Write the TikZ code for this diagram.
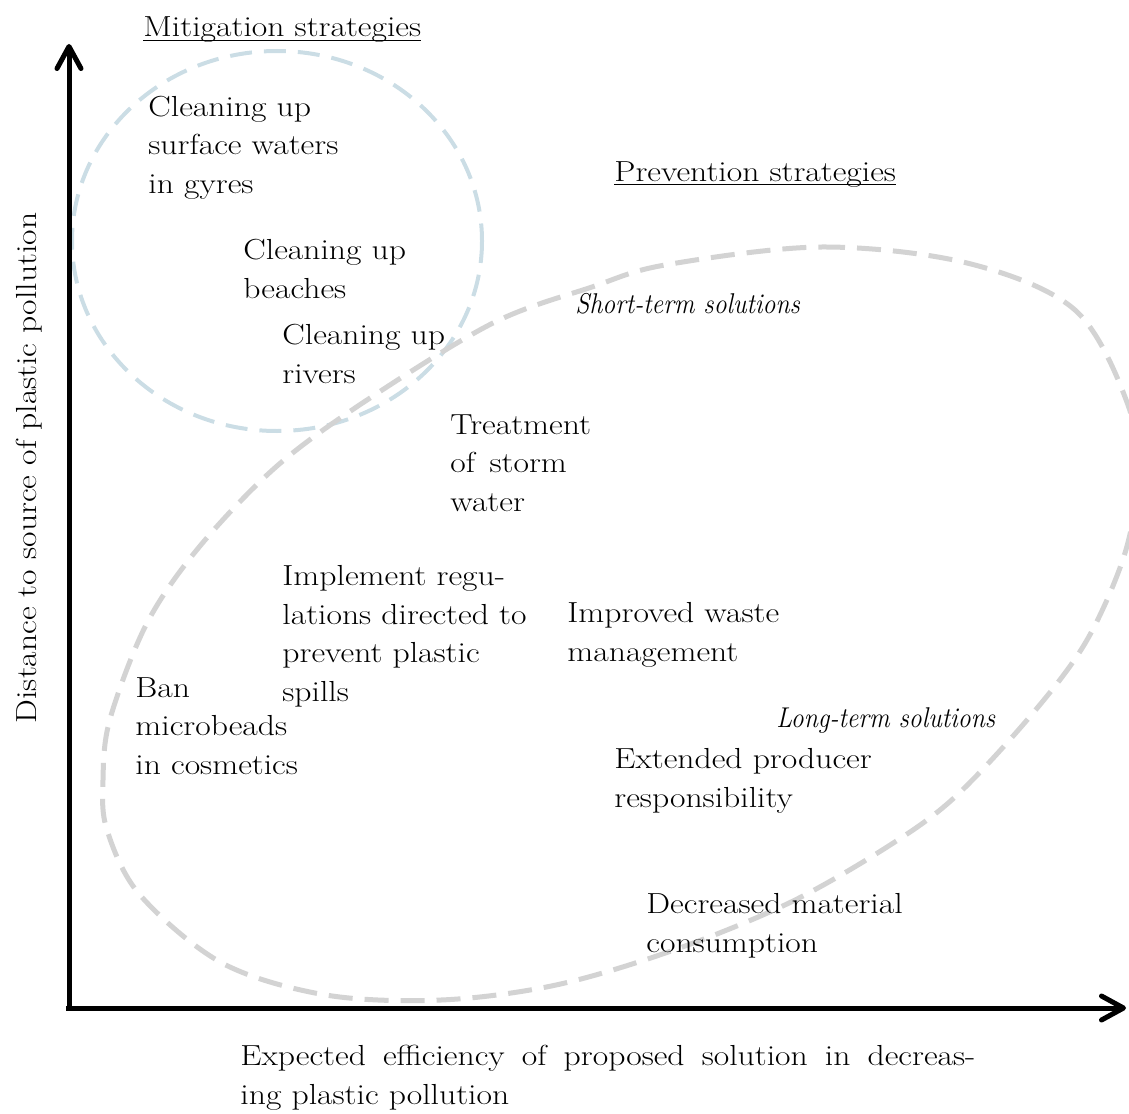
\documentclass[tikz,border=0pt]{standalone}
\usepackage{fontspec}
\setmainfont{Latin Modern Roman}[FakeStretch=1.16]
\newfontfamily\plainit{Latin Modern Roman}[FakeStretch=0.9]
\usetikzlibrary{arrows.meta}
\definecolor{bluedashc}{RGB}{203,221,229}
\definecolor{graydashc}{RGB}{211,211,211}
\newcommand\myul[1]{\setbox0\hbox{#1}\rlap{\rule[-2pt]{\wd0}{0.6pt}}\box0}
\tikzset{
  lbl/.style={font=\fontsize{14.5}{19.2}\selectfont, align=left, inner sep=0pt, anchor=base west},
  itlbl/.style={font=\fontsize{14.3}{16}\selectfont\plainit\itshape, inner sep=0pt, anchor=base west},
  axisline/.style={line width=2.5pt, -{Straight Barb[length=11pt,width=12pt,line cap=round,line join=round]}},
  bluedash/.style={draw=bluedashc, line width=2pt, dash pattern=on 11pt off 6pt},
  graydash/.style={draw=graydashc, line width=2.5pt, dash pattern=on 12pt off 6pt}
}
\begin{document}
\begin{tikzpicture}[x=0.5pt,y=-0.5pt]
\useasboundingbox (0,0) rectangle (1129,1113);
% dashed regions
\draw[bluedash] (277,241) ellipse [x radius=205, y radius=190];
\draw[graydash] plot[smooth cycle, tension=0.55] coordinates {
 (665,265) (821,247) (967,263) (1075,310) (1128,405) (1137,478) (1125,553)
 (1087,640) (1033,713) (955,797) (887,847) (789,903) (674,950) (556,985)
 (441,1000) (326,995) (222,963) (140,895) (107,830) (103,780) (110,719)
 (147,623) (200,546) (277,466) (367,400) (493,323) (592,287)};
% axes
\coordinate (ybot) at (69,1010);
\coordinate (ytop) at (69,44);
\coordinate (xbeg) at (66,1008);
\coordinate (xend) at (1126,1008);
\draw[axisline] (ybot) -- (ytop);
\draw[axisline] (xbeg) -- (xend);
% axis labels (anchor = baseline of the last line)
\node[lbl, anchor=base, rotate=90] (ylab) at (36,468) {Distance to source of plastic pollution};
\node[lbl] (xlab) at (240,1104) {\makebox[367.5pt][s]{Expected efficiency of proposed solution in decreas-}\\ing plastic pollution};
% headings
\node[lbl] (mit) at (143,37) {\myul{Mitigation strategies}};
\node[lbl] (prev) at (614,181) {\myul{Prevention strategies}};
\node[itlbl] (short) at (575,313) {Short-term solutions};
\node[itlbl] (long) at (776,727) {Long-term solutions};
% items
\node[lbl] (gyres) at (148,193) {Cleaning up\\surface waters\\in gyres};
\node[lbl] (beach) at (243,298) {Cleaning up\\beaches};
\node[lbl] (river) at (282,383) {Cleaning up\\rivers};
\node[lbl] (storm) at (450,511) {Treatment\\of\hspace{0.5em}storm\\water};
\node[lbl] (regul) at (282,701) {Implement regu-\\lations directed to\\prevent plastic\\spills};
\node[lbl] (waste) at (567,661) {Improved waste\\management};
\node[lbl] (ban) at (135,774) {Ban\\microbeads\\in cosmetics};
\node[lbl] (epr) at (614,807) {Extended producer\\responsibility};
\node[lbl] (decr) at (646,952) {Decreased material\\consumption};
\end{tikzpicture}
\end{document}
